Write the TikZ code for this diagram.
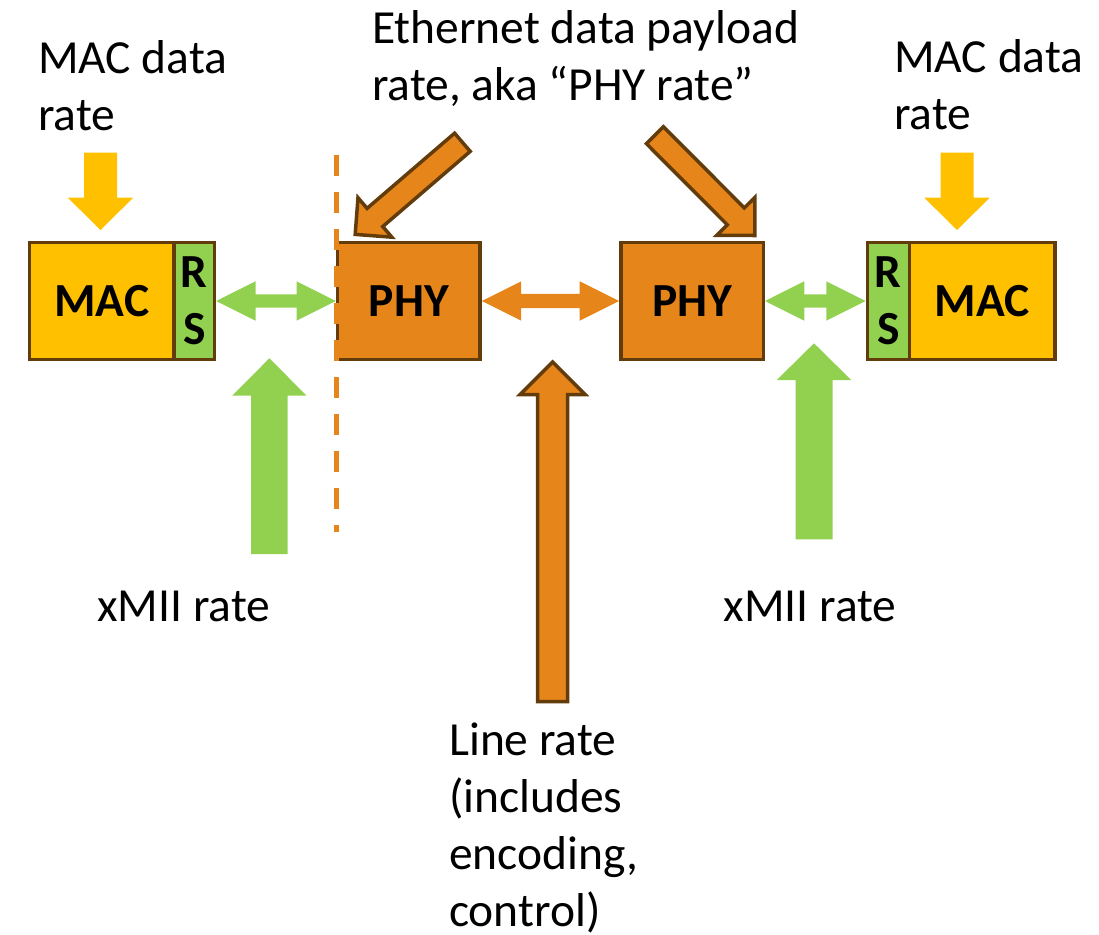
\documentclass[tikz,border=0pt]{standalone}
\usepackage{fontspec}
\setmainfont{Carlito}
\usetikzlibrary{calc}
\definecolor{macyellow}{HTML}{FFC000}
\definecolor{rsgreen}{HTML}{92D050}
\definecolor{phyorange}{HTML}{E6851A}
\definecolor{edgebrown}{HTML}{633C0C}
\newcommand{\lblfont}{\fontsize{47.5}{57}\selectfont}

% block arrow: style, from, to, shaft half width, head half width, head length
\newcommand{\blockarrow}[6]{%
  \path (#2) coordinate (ba_s) (#3) coordinate (ba_e);
  \coordinate (ba_h) at ($(ba_e)!#6!(ba_s)$);
  \path[#1] ($(ba_s)!#4!90:(ba_e)$) -- ($(ba_h)!#4!90:(ba_e)$)
    -- ($(ba_h)!#5!90:(ba_e)$) -- (ba_e) -- ($(ba_h)!#5!-90:(ba_e)$)
    -- ($(ba_h)!#4!-90:(ba_e)$) -- ($(ba_s)!#4!-90:(ba_e)$) -- cycle;}

% double block arrow: style, from, to, shaft half width, head half width, head length
\newcommand{\dblarrow}[6]{%
  \path (#2) coordinate (da_a) (#3) coordinate (da_b);
  \coordinate (da_ha) at ($(da_a)!#6!(da_b)$);
  \coordinate (da_hb) at ($(da_b)!#6!(da_a)$);
  \path[#1] (da_a) -- ($(da_ha)!#5!90:(da_b)$) -- ($(da_ha)!#4!90:(da_b)$)
    -- ($(da_hb)!#4!90:(da_b)$) -- ($(da_hb)!#5!90:(da_b)$) -- (da_b)
    -- ($(da_hb)!#5!-90:(da_b)$) -- ($(da_hb)!#4!-90:(da_b)$)
    -- ($(da_ha)!#4!-90:(da_b)$) -- ($(da_ha)!#5!-90:(da_b)$) -- cycle;}

\begin{document}
\begin{tikzpicture}[x=1pt,y=-1pt,
  box/.style={draw=edgebrown,line width=3.5pt,inner sep=0pt,minimum height=117pt,font=\lblfont\bfseries},
  macbox/.style={box,fill=macyellow},
  rsbox/.style={box,fill=rsgreen,align=center},
  phybox/.style={box,fill=phyorange,minimum width=142.5pt},
  lbl/.style={anchor=base west,align=left,inner sep=0pt,font=\lblfont},
  yellowarrow/.style={fill=macyellow},
  greenarrow/.style={fill=rsgreen},
  orangearrow/.style={fill=phyorange},
  outlinedarrow/.style={fill=phyorange,draw=edgebrown,line width=3.5pt}]
\useasboundingbox (0,0) rectangle (1099,934);

%%% BOXES %%%
\node [macbox,minimum width=144.5pt] at (101.75,301) (mac_left) {MAC};
\node [rsbox,minimum width=40.5pt] at (194.25,301) (rs_left) {R\\S};
\node [phybox] at (408.85,301) (phy_left) {PHY};
\node [phybox] at (692,301) (phy_right) {PHY};
\node [rsbox,minimum width=42pt] at (888.3,301) (rs_right) {R\\S};
\node [macbox,minimum width=145.7pt] at (982.15,301) (mac_right) {MAC};

%%% LABELS %%% (anchored at the baseline of the last line)
\node [lbl] at (38,130) (mac_rate_left) {MAC data\\rate};
\node [lbl] at (372,100.5) (phy_rate) {Ethernet data payload\\rate, aka “PHY rate”};
\node [lbl] at (894,129) (mac_rate_right) {MAC data\\rate};
\node [lbl] at (97,621) (xmii_left) {xMII rate};
\node [lbl] at (723.5,621.7) (xmii_right) {xMII rate};
\node [lbl] at (449,926) (line_rate) {Line rate\\(includes\\encoding,\\control)};

%%% ARROWS %%%
\coordinate (y1) at (100.5,152.7);
\coordinate (y2) at (100.5,230);
\coordinate (y3) at (957,152.7);
\coordinate (y4) at (957,230);
\coordinate (g1) at (269.4,554);
\coordinate (g2) at (269.4,358.3);
\coordinate (g3) at (814,539.3);
\coordinate (g4) at (814,343.3);
\coordinate (r1) at (552.6,701.5);
\coordinate (r2) at (552.6,362);
\coordinate (d1) at (462.4,142.3);
\coordinate (d2) at (355.2,234.4);
\coordinate (d3) at (654.9,135.2);
\coordinate (d4) at (754.9,235.5);

\blockarrow{yellowarrow}{y1}{y2}{16.5pt}{32.7pt}{32.3pt}
\blockarrow{yellowarrow}{y3}{y4}{16.5pt}{32.7pt}{32.3pt}
\blockarrow{greenarrow}{g1}{g2}{18.3pt}{37.2pt}{37.4pt}
\blockarrow{greenarrow}{g3}{g4}{18.5pt}{37.2pt}{36.7pt}
\blockarrow{outlinedarrow}{r1}{r2}{15pt}{32.5pt}{32.5pt}
\blockarrow{outlinedarrow}{d1}{d2}{12pt}{26pt}{26pt}
\blockarrow{outlinedarrow}{d3}{d4}{12pt}{27pt}{27pt}

\dblarrow{greenarrow}{rs_left.east}{phy_left.west}{6.7pt}{19.7pt}{39.3pt}
\dblarrow{orangearrow}{phy_left.east}{phy_right.west}{7.2pt}{19.7pt}{39.3pt}
\dblarrow{greenarrow}{phy_right.east}{rs_right.west}{6.7pt}{19.7pt}{39.3pt}

%%% BOUNDARY %%%
\coordinate (b1) at (336,155);
\coordinate (b2) at (336,532);
\draw [phyorange,line width=5pt,dash pattern=on 20.5pt off 16.5pt] (b1) -- (b2);
\end{tikzpicture}
\end{document}
